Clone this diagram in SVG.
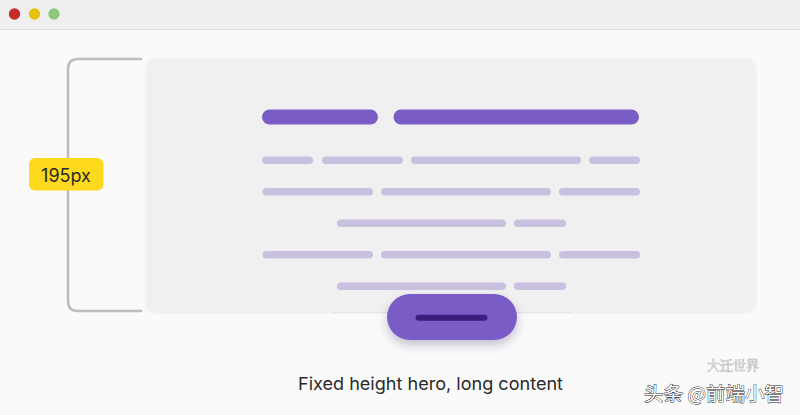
<svg xmlns="http://www.w3.org/2000/svg" width="800" height="415" viewBox="0 0 800 415">
  <defs>
    <filter id="btnShadow" x="-30%" y="-40%" width="160%" height="200%">
      <feDropShadow dx="0" dy="5" stdDeviation="5" flood-color="#3b2a70" flood-opacity="0.28"/>
    </filter>
    <filter id="cardShadow" x="-5%" y="-5%" width="110%" height="110%">
      <feDropShadow dx="0" dy="0" stdDeviation="1.5" flood-color="#000" flood-opacity="0.05"/>
    </filter>
  </defs>
  <style>
    .title { fill: #7a5ec6; }
    .line { fill: #c9bfde; }
    .bracket { fill: none; stroke: #bdbdbd; stroke-width: 2.5; stroke-linecap: round; }
    .lbl { font-family: Inter, "Noto Sans", "Liberation Sans", sans-serif; fill: #2a2a2a; }
    .wm { font-family: "Noto Sans CJK SC", "Noto Sans", sans-serif; }
  </style>

  <!-- page -->
  <rect x="0" y="0" width="800" height="415" fill="#fafafa"/>

  <!-- window title bar -->
  <g id="titlebar">
    <rect x="0" y="0" width="800" height="29" fill="#efefef"/>
    <rect x="0" y="29" width="800" height="1" fill="#dedede"/>
    <circle cx="14.5" cy="14" r="5.7" fill="#c62b2b"/>
    <circle cx="34.5" cy="14" r="5.7" fill="#e5c210"/>
    <circle cx="54" cy="14" r="5.7" fill="#8dc87c"/>
  </g>

  <!-- bracket -->
  <g id="bracket">
    <path class="bracket" d="M141 59 H78 Q68 59 68 69 V301 Q68 311 78 311 H141"/>
  </g>

  <!-- height label -->
  <g id="label-195px">
    <rect x="29" y="158" width="74.5" height="32.5" rx="6" fill="#fcd91c"/>
    <text class="lbl" x="66" y="181.5" font-size="18" text-anchor="middle">195px</text>
  </g>

  <!-- hero card -->
  <g id="hero">
    <rect x="146" y="59" width="610" height="254" rx="9" fill="#f0f0f0" filter="url(#cardShadow)"/>
    <rect x="332" y="312" width="240" height="1" fill="#e4e4e4"/>
    <!-- heading -->
    <rect class="title" x="262" y="109.5" width="116" height="15" rx="7.5"/>
    <rect class="title" x="393.5" y="109.5" width="245.5" height="15" rx="7.5"/>
    <!-- row 1 -->
    <rect class="line" x="262" y="156.5" width="51" height="7.5" rx="3.75"/>
    <rect class="line" x="322" y="156.5" width="81" height="7.5" rx="3.75"/>
    <rect class="line" x="411" y="156.5" width="170" height="7.5" rx="3.75"/>
    <rect class="line" x="589" y="156.5" width="51" height="7.5" rx="3.75"/>
    <!-- row 2 -->
    <rect class="line" x="262.5" y="188" width="110.5" height="7.5" rx="3.75"/>
    <rect class="line" x="381" y="188" width="170" height="7.5" rx="3.75"/>
    <rect class="line" x="559" y="188" width="81" height="7.5" rx="3.75"/>
    <!-- row 3 -->
    <rect class="line" x="337" y="219.5" width="169" height="7.5" rx="3.75"/>
    <rect class="line" x="514" y="219.5" width="52" height="7.5" rx="3.75"/>
    <!-- row 4 -->
    <rect class="line" x="262.5" y="251" width="110.5" height="7.5" rx="3.75"/>
    <rect class="line" x="381" y="251" width="170" height="7.5" rx="3.75"/>
    <rect class="line" x="559" y="251" width="81" height="7.5" rx="3.75"/>
    <!-- row 5 -->
    <rect class="line" x="337" y="282.5" width="169" height="7.5" rx="3.75"/>
    <rect class="line" x="514" y="282.5" width="52" height="7.5" rx="3.75"/>
  </g>

  <!-- button -->
  <g id="button">
    <rect x="387" y="294" width="130" height="46" rx="23" fill="#7a5cc7" filter="url(#btnShadow)"/>
    <rect x="415.5" y="314.7" width="72" height="6" rx="3" fill="#3a1f80"/>
  </g>

  <!-- caption -->
  <g id="caption">
    <text class="lbl" x="298" y="390" font-size="17.5" textLength="265" lengthAdjust="spacingAndGlyphs" fill="#333">Fixed height hero, long content</text>
  </g>

  <!-- watermark -->
  <g id="watermark">
    <text class="wm" x="733" y="370" font-size="13" text-anchor="middle" fill="#ffffff" stroke="#999" stroke-width="0.6" opacity="0.7">大迁世界</text>
    <text class="wm" x="714" y="401" font-size="19.5" text-anchor="middle" fill="#ffffff" stroke="#222" stroke-width="0.9" paint-order="stroke">头条 @前端小智</text>
  </g>
</svg>
